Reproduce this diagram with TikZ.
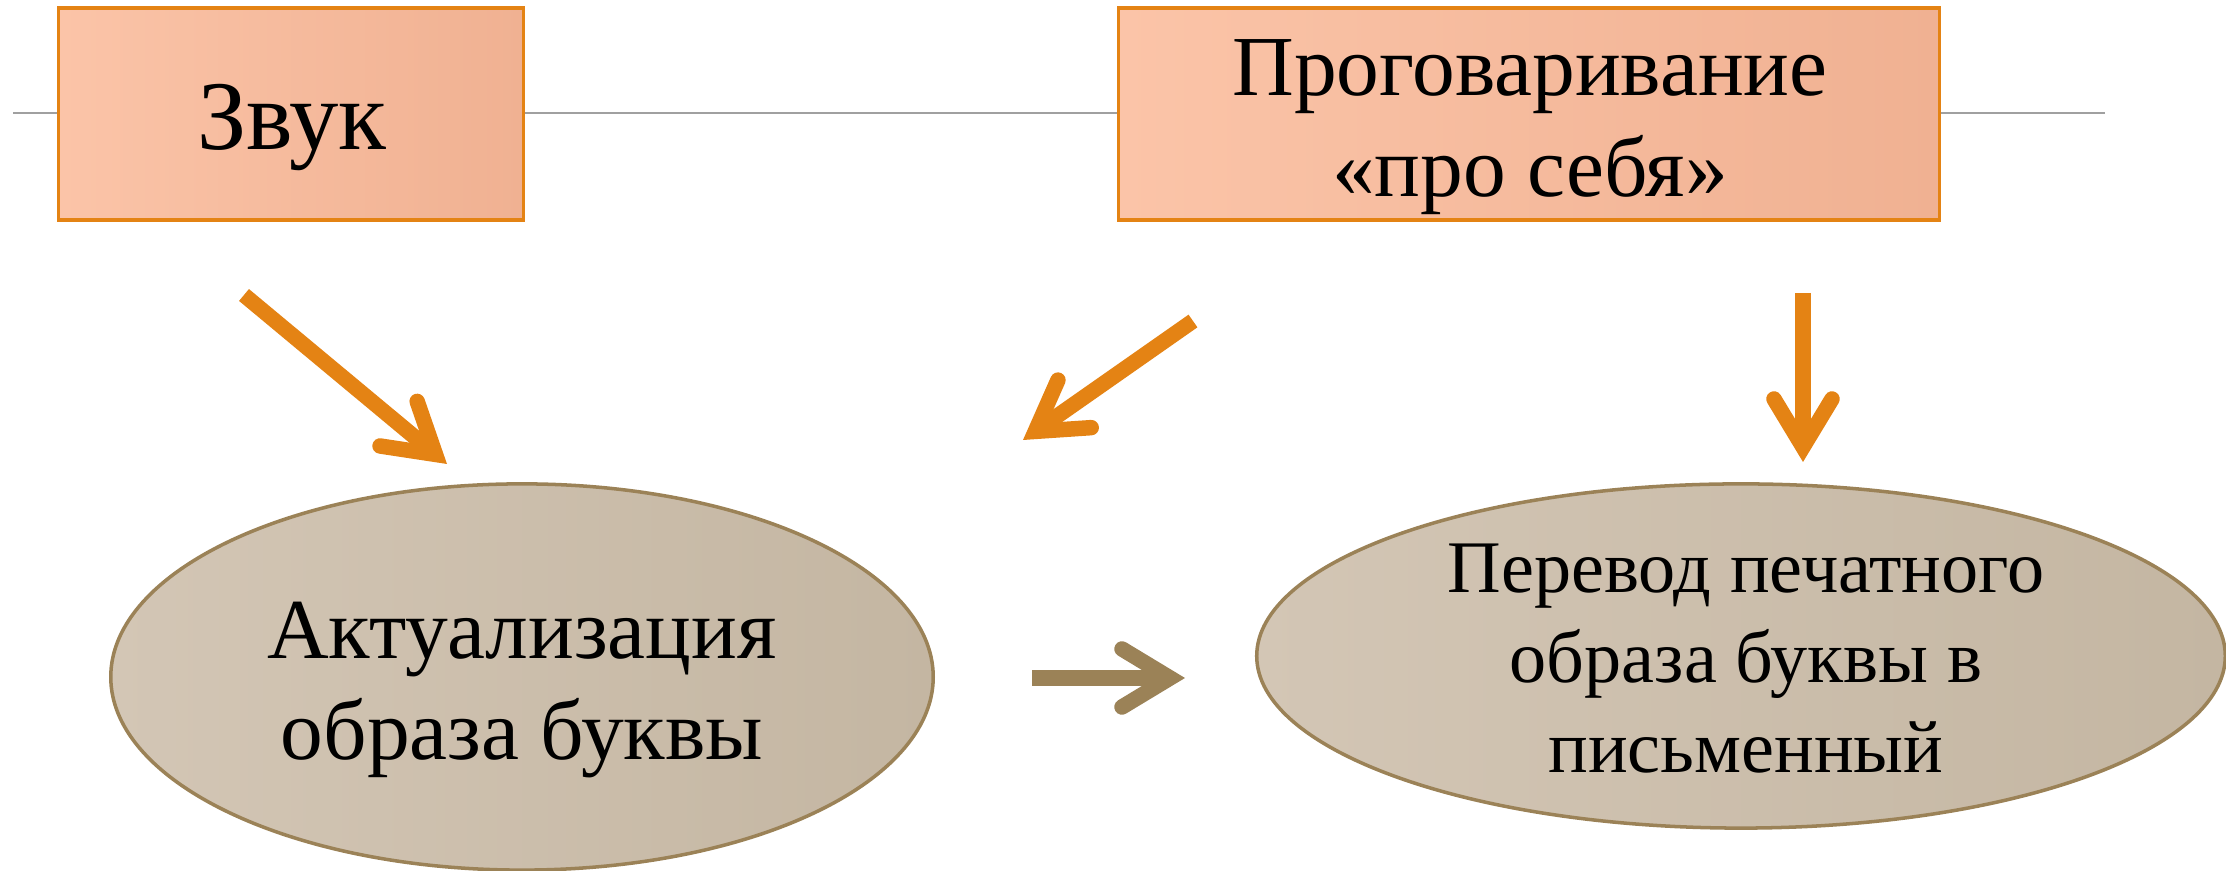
\documentclass[tikz,border=0pt]{standalone}
\usepackage{fontspec}
\setmainfont{Liberation Serif}
\usetikzlibrary{shapes.geometric,arrows.meta}
\definecolor{orng}{RGB}{228,131,20}
\definecolor{boxA}{RGB}{251,196,168}
\definecolor{boxB}{RGB}{240,177,146}
\definecolor{ellA}{RGB}{211,198,181}
\definecolor{ellB}{RGB}{196,182,162}
\definecolor{brwn}{RGB}{155,130,87}
\definecolor{rule}{RGB}{160,160,160}
\tikzset{
  boxshape/.style={rectangle, draw=orng, line width=0.9pt, left color=boxA, right color=boxB, inner sep=0pt},
  ellshape/.style={ellipse, draw=brwn, line width=1pt, left color=ellA, right color=ellB, inner sep=0pt},
  lbl/.style={anchor=base, align=center, inner sep=0pt, text=black},
  orarrow/.style={draw=orng, line width=4.4pt, -{Straight Barb[length=4.8mm, width=5.8mm, line cap=round, line join=miter]}},
  brarrow/.style={draw=brwn, line width=4.4pt, -{Straight Barb[length=4.8mm, width=5.8mm, line cap=round, line join=miter]}},
}
\begin{document}
\begin{tikzpicture}[x=0.01cm,y=-0.01cm]
\useasboundingbox (0,0) rectangle (2226,871);
% horizontal rule
\coordinate (rl) at (13,113);
\coordinate (rr) at (2105,113);
\draw[rule, line width=0.8pt] (rl) -- (rr);
% boxes
\node[boxshape, minimum width=4.64cm, minimum height=2.12cm] (zvuk) at (291,114) {};
\node[boxshape, minimum width=8.20cm, minimum height=2.12cm] (prog) at (1529,114) {};
\node[lbl, font=\fontsize{28pt}{33pt}\selectfont] (zvukT) at (292,150) {Звук};
\node[lbl, font=\fontsize{24.3pt}{29pt}\selectfont] (progT) at (1530,197) {Проговаривание\\«про себя»};
% ellipses
\node[ellshape, minimum width=8.22cm, minimum height=3.86cm] (akt) at (522,677) {};
\node[ellshape, minimum width=9.68cm, minimum height=3.44cm] (perev) at (1741,656) {};
\node[lbl, font=\fontsize{24.3pt}{29pt}\selectfont] (aktT) at (522,760) {Актуализация\\образа буквы};
\node[lbl, font=\fontsize{21.1pt}{25.6pt}\selectfont] (perevT) at (1746,773) {Перевод печатного\\образа буквы в\\письменный};
% arrows
\coordinate (a1s) at (244,295);
\coordinate (a1e) at (447,464);
\coordinate (a2s) at (1193,321);
\coordinate (a2e) at (1023,440);
\coordinate (a3s) at (1803,293);
\coordinate (a3e) at (1803,462);
\coordinate (a4s) at (1032,678);
\coordinate (a4e) at (1185,678);
\draw[orarrow] (a1s) -- (a1e);
\draw[orarrow] (a2s) -- (a2e);
\draw[orarrow] (a3s) -- (a3e);
\draw[brarrow] (a4s) -- (a4e);
\end{tikzpicture}
\end{document}
